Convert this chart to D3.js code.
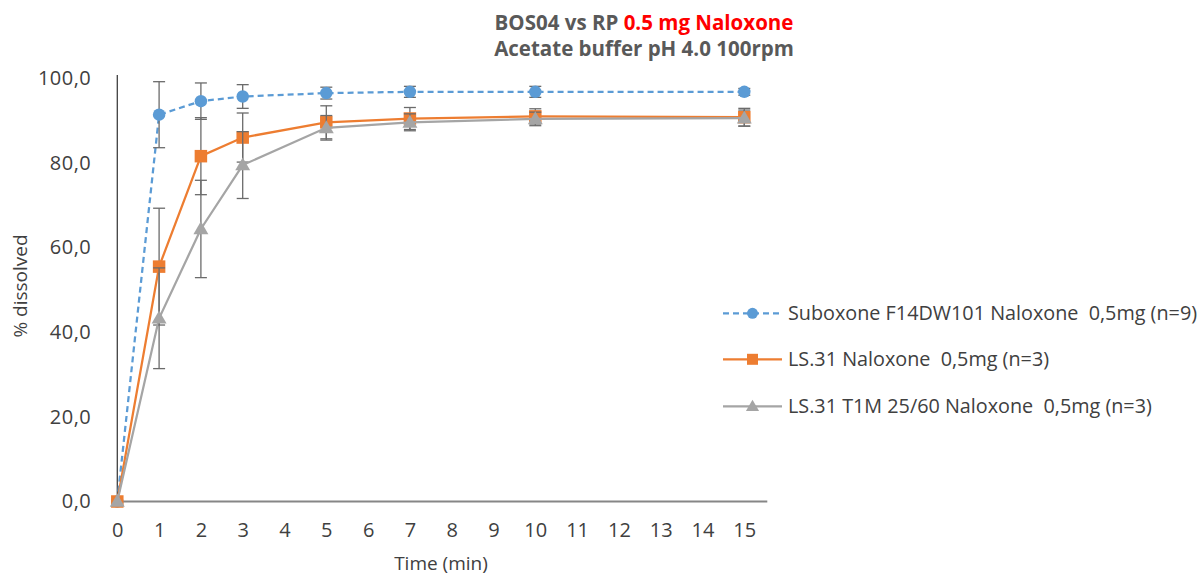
<!DOCTYPE html>
<html>
<head>
<meta charset="utf-8">
<script src="https://cdn.jsdelivr.net/npm/d3@7"></script>
<style>
  html, body { margin: 0; padding: 0; background: #fff; }
  svg { display: block; font-family: "Open Sans", "Liberation Sans", sans-serif; }
  svg text { white-space: pre; }
</style>
</head>
<body>
<svg id="chart" width="1203" height="575"></svg>
<script>
// Sampling times (min)
const times = [0, 1, 2, 3, 5, 7, 10, 15];

// Mean % dissolved per formulation
const suboxoneMean = [0, 91.4, 94.6, 95.7, 96.5, 96.8, 96.8, 96.8];
const ls31Mean     = [0, 55.5, 81.6, 86.0, 89.6, 90.5, 91.0, 90.8];
const ls31T1MMean  = [0, 43.3, 64.4, 79.5, 88.3, 89.6, 90.4, 90.6];

// Standard deviations (error bars)
const suboxoneSD = [0, 7.8, 4.3, 2.8, 1.4, 1.3, 1.3, 0.8];
const ls31SD     = [0, 13.8, 9.1, 5.8, 3.9, 2.6, 1.8, 2.1];
const ls31T1MSD  = [0, 11.9, 11.5, 7.9, 2.9, 2.0, 1.6, 1.9];

const seriesNames = [
  "Suboxone F14DW101 Naloxone  0,5mg (n=9)",
  "LS.31 Naloxone  0,5mg (n=3)",
  "LS.31 T1M 25/60 Naloxone  0,5mg (n=3)"
];

const xTicks = d3.range(0, 16);
const yTicks = [0, 20, 40, 60, 80, 100];

const titleLine1 = ["BOS04 vs RP ", "0.5 mg Naloxone"];
const titleLine2 = "Acetate buffer pH 4.0 100rpm";
const xTitle = "Time (min)";
const yTitle = "% dissolved";

// ---- styling ----
const series = [
  { name: seriesNames[0], mean: suboxoneMean, sd: suboxoneSD, color: "#5B9BD5", dash: "6,4", marker: "circle" },
  { name: seriesNames[1], mean: ls31Mean,     sd: ls31SD,     color: "#ED7D31", dash: null,  marker: "square" },
  { name: seriesNames[2], mean: ls31T1MMean,  sd: ls31T1MSD,  color: "#A5A5A5", dash: null,  marker: "triangle" }
];

const svg = d3.select("#chart");

const x = d3.scaleLinear().domain([0, 15]).range([117.3, 744.3]);
const y = d3.scaleLinear().domain([0, 100]).range([501.5, 78.3]);
const xAxisEnd = 15.55;
const textColor = "#404040";

// Y axis: labels only, with a dark axis line
const yAxis = d3.axisLeft(y).tickValues(yTicks).tickSize(0).tickPadding(26)
  .tickFormat(d => d3.format(".1f")(d).replace(".", ","));
const gy = svg.append("g").attr("transform", `translate(${x(0)},0)`).call(yAxis);
gy.select(".domain").remove();
gy.selectAll("text").attr("font-size", 20).attr("letter-spacing", 0.5).attr("fill", textColor)
  .attr("font-family", "Open Sans, sans-serif");
svg.append("line")
  .attr("x1", x(0)).attr("x2", x(0))
  .attr("y1", y(0)).attr("y2", y(100.8))
  .attr("stroke", textColor).attr("stroke-width", 1.3);

// X axis
const xAxis = d3.axisBottom(x).tickValues(xTicks).tickSize(0).tickPadding(21)
  .tickFormat(d3.format("d"));
const gx = svg.append("g").attr("transform", `translate(0,${y(0)})`).call(xAxis);
gx.select(".domain").remove();
gx.selectAll("text").attr("font-size", 20).attr("fill", textColor)
  .attr("font-family", "Open Sans, sans-serif");
svg.append("line")
  .attr("x1", x(0)).attr("x2", x(xAxisEnd))
  .attr("y1", y(0)).attr("y2", y(0))
  .attr("stroke", "#868686").attr("stroke-width", 2);

// Axis titles
svg.append("text")
  .attr("x", 441).attr("y", 570)
  .attr("text-anchor", "middle")
  .attr("font-size", 19).attr("fill", textColor)
  .text(xTitle);
svg.append("text")
  .attr("transform", "translate(27,286) rotate(-90)")
  .attr("text-anchor", "middle")
  .attr("font-size", 19).attr("fill", textColor)
  .text(yTitle);

// Chart title
const t1 = svg.append("text")
  .attr("x", 644).attr("y", 30)
  .attr("text-anchor", "middle")
  .attr("font-size", 20.5).attr("font-weight", "bold").attr("fill", "#595959");
t1.append("tspan").text(titleLine1[0]);
t1.append("tspan").attr("fill", "#FF0000").text(titleLine1[1]);
svg.append("text")
  .attr("x", 644).attr("y", 56)
  .attr("text-anchor", "middle")
  .attr("font-size", 20.5).attr("font-weight", "bold").attr("fill", "#595959")
  .text(titleLine2);

// Marker drawing helper
function drawMarker(g, type, cx, cy, color, size) {
  if (type === "circle") {
    g.append("circle").attr("cx", cx).attr("cy", cy).attr("r", size / 2).attr("fill", color);
  } else if (type === "square") {
    g.append("rect").attr("x", cx - size / 2).attr("y", cy - size / 2)
      .attr("width", size).attr("height", size).attr("fill", color);
  } else {
    const sym = d3.symbol().type(d3.symbolTriangle).size(size * size * 0.62);
    g.append("path").attr("d", sym()).attr("transform", `translate(${cx},${cy + 1})`).attr("fill", color);
  }
}

const line = d3.line().x(d => x(d.t)).y(d => y(d.v));

series.forEach(s => {
  const pts = times.map((t, i) => ({ t, v: s.mean[i], sd: s.sd[i] }));
  const g = svg.append("g");

  g.append("path").datum(pts)
    .attr("d", line)
    .attr("fill", "none")
    .attr("stroke", s.color)
    .attr("stroke-width", 2.25)
    .attr("stroke-dasharray", s.dash);

  // Error bars
  const eb = g.append("g").attr("stroke", "#6b6b6b").attr("stroke-width", 1.3);
  pts.filter(p => p.sd > 0).forEach(p => {
    const cx = x(p.t), top = y(p.v + p.sd), bot = y(p.v - p.sd);
    eb.append("line").attr("x1", cx).attr("x2", cx).attr("y1", top).attr("y2", bot);
    eb.append("line").attr("x1", cx - 6).attr("x2", cx + 6).attr("y1", top).attr("y2", top);
    eb.append("line").attr("x1", cx - 6).attr("x2", cx + 6).attr("y1", bot).attr("y2", bot);
  });

  // Markers
  pts.forEach(p => drawMarker(g, s.marker, x(p.t), y(p.v), s.color, 12.5));
});

// Legend
const legendRows = [313.3, 359.3, 406.3];
series.forEach((s, i) => {
  const g = svg.append("g");
  const ly = legendRows[i];
  g.append("line")
    .attr("x1", 723).attr("x2", 782).attr("y1", ly).attr("y2", ly)
    .attr("stroke", s.color).attr("stroke-width", 2.25)
    .attr("stroke-dasharray", s.dash);
  drawMarker(g, s.marker, 752.5, ly, s.color, 11);
  g.append("text")
    .attr("x", 788).attr("y", ly).attr("dy", "0.36em")
    .attr("font-size", 19.8).attr("fill", textColor)
    .text(s.name);
});
</script>
</body>
</html>
